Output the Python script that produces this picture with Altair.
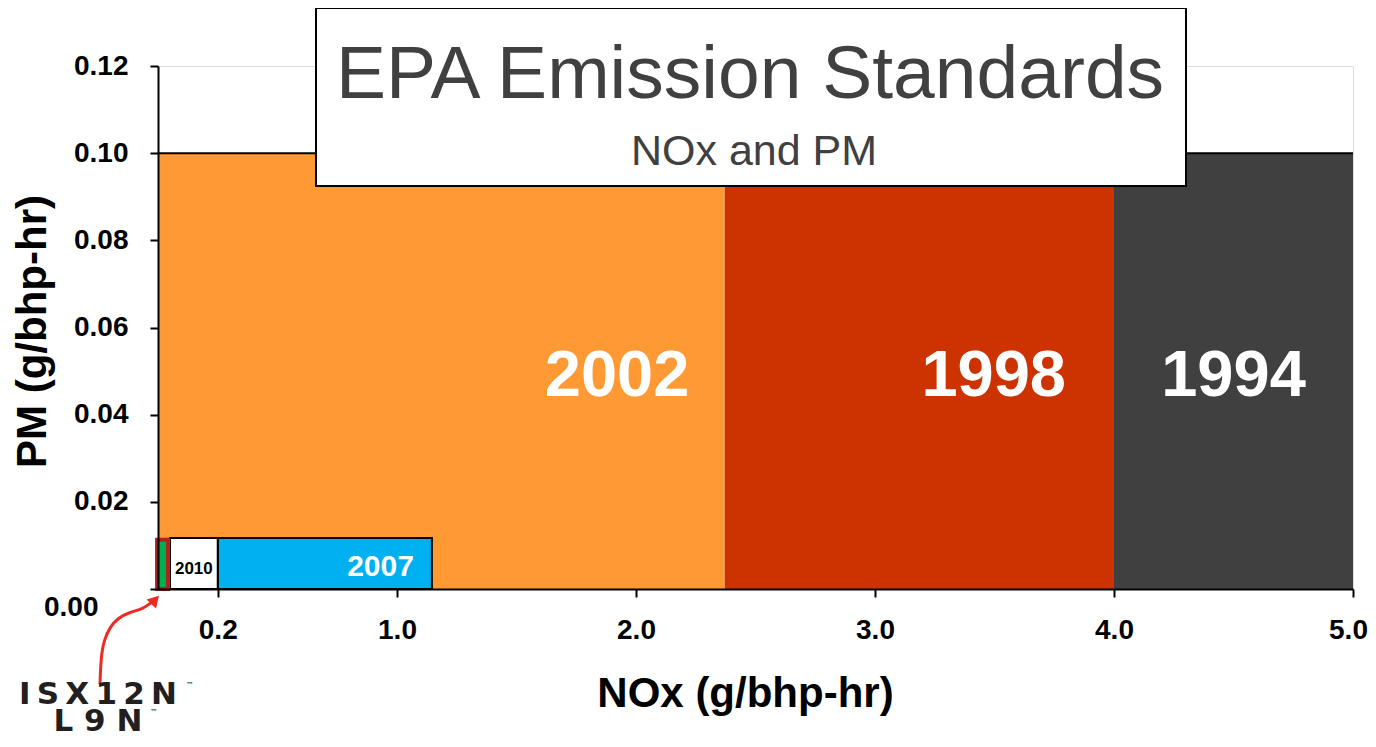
import altair as alt
import pandas as pd

# ---- data ----
years = ["1994", "1998", "2002", "2007", "2010"]
nox_lo = [4.0, 2.37, 0.0, 0.25, 0.05]
nox_hi = [5.0, 4.0, 2.37, 1.146, 0.25]
pm_std = [0.10, 0.10, 0.10, 0.0117, 0.0117]
fills = ["#404040", "#CC3300", "#FF9933", "#00B0F0", "#FFFFFF"]

isx_label = ["ISX12N / L9N"]
isx_lo = [-0.004]
isx_hi = [0.042]
isx_pm = [0.0113]

x_ticks = [0.25, 1.0, 2.0, 3.0, 4.0, 5.0]
y_ticks = [0.0, 0.02, 0.04, 0.06, 0.08, 0.10, 0.12]

# annotation arrow path (data units) from the logo to the ISX12N box
arrow_x = [-0.2427, -0.2385, -0.2259, -0.2008, -0.1674, -0.1172, -0.0628, -0.0251]
arrow_y = [-0.0218, -0.0156, -0.01170, -0.00872, -0.00665, -0.00528, -0.00459, -0.00298]

FONT = "Liberation Sans"

bars = pd.DataFrame({"year": years, "lo": nox_lo, "hi": nox_hi, "pm": pm_std})
isx = pd.DataFrame({"name": isx_label, "lo": isx_lo, "hi": isx_hi, "pm": isx_pm})
arrow = pd.DataFrame({"x": arrow_x, "y": arrow_y, "o": list(range(len(arrow_x)))})
one = pd.DataFrame({"a": [0]})

xscale = alt.Scale(domain=[0, 5], nice=False, zero=False)
yscale = alt.Scale(domain=[0, 0.12], nice=False)

xaxis = alt.Axis(
    values=x_ticks,
    labelExpr="datum.value == 0.25 ? '0.2' : format(datum.value, '.1f')",
    title="NOx (g/bhp-hr)",
    titleFont=FONT, titleFontSize=42, titleFontWeight="bold", titleColor="black",
    titleX=587, titleY=104, titleBaseline="middle", titleAlign="center",
    labelFont=FONT, labelFontSize=28, labelFontWeight="bold", labelColor="black",
    labelPadding=19, labelFlush=False,
    labelOffset={"condition": {"test": "datum.value == 5", "value": -5}, "value": 0},
    tickSize=8, tickColor="black", tickWidth=2,
    domainColor="black", domainWidth=2, grid=False, zindex=1,
)
yaxis = alt.Axis(
    values=y_ticks, format=".2f",
    title="PM (g/bhp-hr)",
    titleFont=FONT, titleFontSize=42, titleFontWeight="bold", titleColor="black",
    titleX=-126, titleY=265, titleBaseline="middle", titleAlign="center", titleAngle=-90,
    labelFont=FONT, labelFontSize=28, labelFontWeight="bold", labelColor="black",
    labelPadding={"condition": {"test": "datum.value == 0", "value": 52}, "value": 22},
    labelOffset={"condition": {"test": "datum.value == 0", "value": 18}, "value": 0},
    labelFlush=False,
    tickSize=8, tickColor="black", tickWidth=2,
    domainColor="black", domainWidth=2, grid=False, zindex=1,
)

big = alt.Chart(bars).mark_rect(clip=False).encode(
    x=alt.X("lo:Q", scale=xscale, axis=xaxis),
    x2="hi:Q",
    y=alt.Y("pm:Q", scale=yscale, axis=yaxis),
    y2=alt.datum(0),
    fill=alt.Fill("year:N", scale=alt.Scale(domain=years, range=fills), legend=None),
    stroke=alt.condition("datum.pm < 0.05", alt.value("black"), alt.value(None)),
    strokeWidth=alt.value(2),
)

top_line = alt.Chart(one).mark_rule(color="black", strokeWidth=2).encode(
    x=alt.datum(0), x2=alt.datum(5), y=alt.datum(0.10)
)

isx_box = alt.Chart(isx).mark_rect(
    fill="#00B050", stroke="#B22222", strokeWidth=4, clip=False
).encode(x="lo:Q", x2="hi:Q", y="pm:Q", y2=alt.datum(0))

def bar_label(year, size, color, dx, ypix, align="right", mid=False):
    base = alt.Chart(bars).transform_filter(f"datum.year == '{year}'")
    if mid:
        base = base.transform_calculate(xm="(datum.lo + datum.hi) / 2")
        xfield = "xm:Q"
    else:
        xfield = "hi:Q"
    return base.mark_text(
        font=FONT, fontWeight="bold", fontSize=size, color=color,
        align=align, baseline="middle", dx=dx
    ).encode(x=xfield, y=alt.value(ypix), text="year:N")

lab2002 = bar_label("2002", 65, "white", -35, 310)
lab1998 = bar_label("1998", 65, "white", -48, 310)
lab1994 = bar_label("1994", 65, "white", 0, 310, align="center", mid=True)
lab2007 = bar_label("2007", 30, "white", -18, 501)
lab2010 = bar_label("2010", 17, "black", 0, 503, align="center", mid=True)

title_box = alt.Chart(one).mark_rect(fill="white", stroke="black", strokeWidth=2).encode(
    x=alt.value(158), x2=alt.value(1028), y=alt.value(-58), y2=alt.value(120)
)
title_txt = alt.Chart(one).mark_text(
    text="EPA Emission Standards", font=FONT, fontSize=75, color="#404040",
    align="center", baseline="alphabetic"
).encode(x=alt.value(592), y=alt.value(32))
sub_txt = alt.Chart(one).mark_text(
    text="NOx and PM", font=FONT, fontSize=43, color="#404040",
    align="center", baseline="alphabetic"
).encode(x=alt.value(596), y=alt.value(99))

arrow_line = alt.Chart(arrow).mark_line(
    color="#EE2A24", strokeWidth=3, interpolate="basis", clip=False
).encode(x="x:Q", y="y:Q", order="o:Q")
arrow_head = alt.Chart(one).mark_point(
    shape="triangle-up", filled=True, color="#EE2A24", size=170, angle=43, opacity=1, clip=False
).encode(x=alt.datum(-0.012), y=alt.datum(-0.0025))

TS = "\u2009"
logo = alt.Chart(one).mark_text(
    text=[TS.join("ISX12N"), " ".join("L9N")], font="DejaVu Sans", fontWeight="bold",
    fontSize=31, lineHeight=27, color="#231F20", align="center", baseline="alphabetic"
).encode(x=alt.value(-60), y=alt.value(638))
tm1 = alt.Chart(one).mark_text(
    text="™", font="DejaVu Sans", fontSize=8, color="#231F20", align="left", baseline="top"
).encode(x=alt.value(28), y=alt.value(616))
tm2 = alt.Chart(one).mark_text(
    text="™", font="DejaVu Sans", fontSize=8, color="#231F20", align="left", baseline="top"
).encode(x=alt.value(-8), y=alt.value(643))

chart = alt.layer(
    big, top_line, isx_box,
    lab2002, lab1998, lab1994, lab2007, lab2010,
    title_box, title_txt, sub_txt,
    arrow_line, arrow_head, logo, tm1, tm2,
).properties(
    width=1195, height=523,
    autosize=alt.AutoSizeParams(type="none"),
    padding={"left": 150, "top": 58, "right": 15, "bottom": 150},
).configure_view(stroke="black", strokeWidth=2).configure(background="white")

chart.save("out.html", embed_options={"renderer": "svg", "actions": False})
